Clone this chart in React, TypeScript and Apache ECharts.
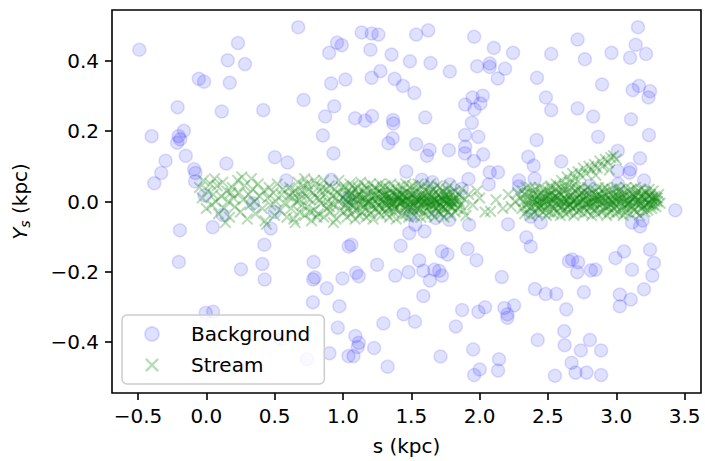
import React, { useEffect, useRef } from "react";
import * as echarts from "echarts";

// ---- Data ----
const xTicks = [-0.5, 0.0, 0.5, 1.0, 1.5, 2.0, 2.5, 3.0, 3.5];
const yTicks = [-0.4, -0.2, 0.0, 0.2, 0.4];
const xRange = [-0.69, 3.62];
const yRange = [-0.545, 0.545];

const backgroundPoints: number[][] = [
  [-0.49,0.432],[0.232,0.451],[0.157,0.402],[0.283,0.391],[0.673,0.496],[0.957,0.452],[0.991,0.445],[0.899,0.423],
  [-0.055,0.349],[-0.016,0.341],[0.172,0.338],[1.018,0.347],[0.914,0.336],[-0.21,0.268],[0.113,0.256],[0.417,0.26],
  [0.712,0.289],[0.936,0.271],[0.87,0.242],[-0.4,0.186],[-0.164,0.201],[-0.203,0.186],[-0.191,0.177],[-0.213,0.167],
  [0.853,0.188],[-0.15,0.13],[-0.298,0.116],[-0.33,0.081],[-0.381,0.052],[0.147,0.108],[0.502,0.126],[0.595,0.111],
  [0.931,0.137],[-0.089,0.092],[-0.079,0.081],[-0.082,0.057],[0.585,0.06],[0.914,0.062],[-0.013,0.017],
  [1.137,0.481],[1.21,0.478],[1.259,0.475],[1.536,0.475],[1.624,0.487],[1.96,0.469],[2.104,0.437],[2.245,0.423],
  [1.201,0.432],[1.356,0.418],[1.49,0.399],[1.641,0.394],[1.782,0.37],[1.982,0.385],[2.074,0.393],[2.074,0.383],
  [2.186,0.378],[2.133,0.35],[1.21,0.352],[1.274,0.371],[1.378,0.349],[1.439,0.329],[1.522,0.309],[2.42,0.352],
  [2.524,0.42],[2.717,0.461],[2.77,0.405],[2.965,0.423],[3.101,0.409],[3.218,0.42],[3.142,0.446],[3.159,0.496],
  [2.896,0.333],[3.166,0.329],[3.12,0.317],[3.247,0.314],[3.235,0.296],[1.894,0.276],[1.948,0.296],[2.023,0.301],
  [2.006,0.279],[1.962,0.262],[2.485,0.296],[2.524,0.26],[2.717,0.265],[2.831,0.242],[3.108,0.234],[1.089,0.237],
  [1.162,0.23],[1.213,0.243],[1.366,0.232],[1.369,0.222],[1.602,0.239],[1.943,0.224],[1.894,0.189],[1.991,0.184],
  [2.417,0.175],[2.867,0.184],[3.239,0.189],[1.364,0.18],[1.332,0.166],[1.536,0.163],[1.634,0.147],[1.615,0.13],
  [1.775,0.146],[1.894,0.156],[1.892,0.137],[2.026,0.134],[1.958,0.115],[2.356,0.127],[2.396,0.102],[2.597,0.114],
  [3.011,0.144],[3.174,0.123],[3.104,0.092],[3.096,0.082],[3.009,0.087],[3.203,0.06],[1.464,0.085],[1.578,0.062],
  [1.655,0.055],[1.782,0.048],[1.87,0.036],[1.918,0.064],[2.074,0.083],[2.135,0.083],[2.067,0.049],[2.288,0.06],
  [2.288,0.043],[2.403,0.065],[2.807,0.045],[3.013,0.05],[3.432,-0.025],
  [0.12,-0.038],[-0.193,-0.082],[0.047,-0.073],[0.471,-0.077],[0.425,-0.123],[-0.201,-0.172],[0.254,-0.193],[0.41,-0.178],
  [0.427,-0.222],[0.785,-0.172],[0.782,-0.222],[0.794,-0.216],[0.882,-0.247],[0.996,-0.219],[0.78,-0.287],[0.974,-0.298],
  [-0.004,-0.317],[0.05,-0.314],[0.962,-0.359],[0.544,-0.392],[0.736,-0.449],[0.901,-0.432],[1.04,-0.44],[1.042,-0.128],
  [1.062,-0.123],[1.25,-0.18],[1.422,-0.126],[1.485,-0.09],[1.529,-0.066],[1.597,-0.085],[1.68,-0.047],[1.777,-0.052],
  [1.923,-0.066],[2.208,-0.065],[2.374,-0.043],[2.447,-0.06],[2.342,-0.102],[2.374,-0.128],[3.115,-0.06],[3.174,-0.071],
  [3.193,-0.054],[1.096,-0.203],[1.116,-0.213],[1.383,-0.211],[1.48,-0.201],[1.558,-0.168],[1.588,-0.197],[1.636,-0.225],
  [1.668,-0.194],[1.704,-0.197],[1.724,-0.211],[1.724,-0.142],[1.765,-0.151],[1.911,-0.135],[1.977,-0.167],[2.162,-0.215],
  [1.588,-0.269],[1.444,-0.321],[1.527,-0.342],[1.296,-0.347],[1.872,-0.309],[1.991,-0.314],[2.04,-0.301],[2.181,-0.303],
  [2.252,-0.296],[2.203,-0.321],[2.203,-0.331],[1.826,-0.356],[1.091,-0.383],[1.116,-0.402],[1.108,-0.414],[1.077,-0.44],
  [1.228,-0.417],[1.327,-0.47],[1.714,-0.441],[1.953,-0.421],[2.001,-0.478],[1.96,-0.494],[2.142,-0.449],[2.135,-0.481],
  [2.405,-0.249],[2.483,-0.263],[2.561,-0.263],[2.634,-0.307],[2.763,-0.258],[2.425,-0.394],[2.619,-0.369],[2.622,-0.409],
  [2.741,-0.424],[2.807,-0.394],[2.889,-0.424],[2.673,-0.459],[2.702,-0.487],[2.782,-0.487],[2.889,-0.494],[2.551,-0.496],
  [2.653,-0.17],[2.677,-0.165],[2.721,-0.173],[2.714,-0.201],[2.814,-0.196],[2.848,-0.194],[2.994,-0.161],[3.057,-0.142],
  [3.115,-0.194],[3.247,-0.137],[3.276,-0.175],[3.264,-0.211],[3.203,-0.25],[3.026,-0.265],[3.106,-0.279],[3.026,-0.298],
  [0.342,-0.005],[0.5,-0.03],[1.035,0.01],[1.498,-0.038],
];

const streamLeft: number[][] = [
  [-0.05,0.04],[-0.03,0.01],[-0.02,0.06],[0.0,-0.02],[0.01,0.03],[0.03,0.05],[0.04,-0.01],[0.05,0.02],[0.07,0.0],[0.08,0.045],
  [0.09,-0.035],[0.11,0.015],[0.12,0.055],[0.13,-0.02],[0.15,0.03],[0.16,0.0],[0.17,-0.045],[0.19,0.04],[0.2,0.01],[0.21,-0.015],
  [0.23,0.06],[0.24,0.025],[0.25,-0.03],[0.27,0.005],[0.28,0.045],[0.3,-0.05],[0.31,0.02],[0.32,-0.01],[0.34,0.035],[0.35,0.0],
  [0.36,-0.035],[0.38,0.05],[0.39,0.015],[0.41,-0.02],[0.42,0.03],[0.43,-0.055],[0.45,0.01],[0.46,0.04],[0.47,-0.01],[0.49,0.025],
  [0.5,-0.04],[0.51,0.0],[0.52,0.05],[0.54,-0.025],[0.55,0.02],[0.56,0.035],[0.57,-0.005],[0.59,-0.045],[0.6,0.015],[0.06,0.065],
  [0.14,-0.06],[0.26,0.07],[0.44,-0.065],[0.33,0.065],[0.18,0.025],
  [0.61,0.04],[0.62,-0.02],[0.63,0.01],[0.64,-0.05],[0.65,0.03],[0.66,0.0],[0.67,0.055],[0.68,-0.03],[0.69,0.02],[0.7,-0.01],
  [0.71,0.045],[0.72,-0.04],[0.73,0.015],[0.74,-0.015],[0.75,0.035],[0.76,0.005],[0.77,-0.055],[0.78,0.025],[0.79,-0.025],[0.8,0.05],
  [0.81,0.01],[0.82,-0.035],[0.83,0.03],[0.84,-0.005],[0.85,0.04],[0.86,-0.045],[0.87,0.02],[0.88,-0.02],[0.89,0.0],[0.9,0.045],
  [0.91,-0.03],[0.92,0.015],[0.93,-0.01],[0.94,0.035],[0.95,-0.05],[0.96,0.025],[0.97,0.0],[0.98,-0.025],[0.99,0.04],[0.65,-0.06],
  [0.72,0.065],[0.79,0.06],[0.86,0.06],[0.93,-0.06],[0.97,0.06],[0.63,0.025],[0.7,0.03],[0.76,-0.03],[0.83,0.005],[0.9,-0.015],
  [0.95,0.01],[0.68,0.005],[0.74,0.05],[0.81,-0.045],[0.88,0.035],
  [1.0,0.01],[1.01,-0.03],[1.01,0.04],[1.02,-0.01],[1.02,0.02],[1.03,-0.045],[1.03,0.0],[1.04,0.03],[1.04,-0.02],[1.05,0.05],
  [1.05,-0.005],[1.06,0.025],[1.06,-0.035],[1.07,0.01],[1.07,0.045],[1.08,-0.015],[1.08,0.0],[1.09,0.035],[1.09,-0.05],[1.1,0.015],
  [1.1,-0.025],[1.11,0.04],[1.11,0.005],[1.12,-0.04],[1.12,0.02],[1.13,-0.01],[1.13,0.055],[1.14,0.0],[1.14,-0.03],[1.15,0.03],
  [1.15,-0.015],[1.16,0.01],[1.16,0.045],[1.17,-0.045],[1.17,0.02],[1.18,-0.005],[1.18,0.035],[1.19,-0.025],[1.19,0.0],[1.2,0.05],
  [1.2,-0.035],[1.21,0.015],[1.21,-0.01],[1.22,0.03],[1.22,-0.05],[1.23,0.005],[1.23,0.04],[1.24,-0.02],[1.24,0.02],[1.25,-0.005],
  [1.25,0.035],[1.26,-0.03],[1.26,0.01],[1.27,0.05],[1.27,-0.015],[1.28,0.025],[1.28,-0.04],[1.29,0.0],[1.29,0.04],[1.3,-0.02],
  [1.3,0.015],[1.31,-0.005],[1.31,0.045],[1.32,-0.035],[1.32,0.02],[1.33,0.0],[1.33,-0.02],[1.34,0.035],[1.34,-0.045],[1.35,0.01],
  [1.35,0.05],[1.36,-0.01],[1.36,0.025],[1.37,-0.03],[1.37,0.005],[1.38,0.04],[1.38,-0.015],[1.39,0.015],[1.39,-0.05],[1.4,0.0],
  [1.4,0.03],[1.41,-0.025],[1.41,0.01],[1.42,0.045],[1.42,-0.005],[1.43,-0.04],[1.43,0.02],[1.44,0.0],[1.44,0.035],[1.45,-0.02],
  [1.45,0.015],[1.46,-0.035],[1.46,0.05],[1.47,0.005],[1.47,-0.01],[1.48,0.025],[1.48,-0.045],[1.49,0.04],[1.49,-0.015],[1.5,0.01],
  [1.5,-0.03],[1.51,0.02],[1.51,0.045],[1.52,-0.005],[1.52,-0.04],[1.53,0.03],[1.53,0.0],[1.54,-0.02],[1.54,0.015],[1.55,0.05],
  [1.55,-0.025],[1.56,0.005],[1.56,0.035],[1.57,-0.045],[1.57,-0.01],[1.58,0.02],[1.58,0.045],[1.59,-0.03],[1.59,0.0],[1.6,0.03],
  [1.6,-0.015],[1.61,0.01],[1.61,-0.04],[1.62,0.04],[1.62,-0.005],[1.63,0.025],[1.63,-0.025],[1.64,0.0],[1.64,0.05],[1.65,-0.035],
  [1.65,0.015],[1.66,-0.01],[1.66,0.035],[1.67,-0.045],[1.67,0.005],[1.68,0.025],[1.68,-0.02],[1.69,0.045],[1.69,0.0],[1.7,-0.03],
  [1.7,0.02],[1.71,-0.005],[1.71,0.04],[1.72,-0.035],[1.72,0.01],[1.73,-0.015],[1.73,0.03],[1.74,0.0],[1.74,-0.045],[1.75,0.015],
  [1.75,-0.02],[1.76,0.035],[1.76,0.005],[1.77,-0.03],[1.77,0.02],[1.78,-0.01],[1.78,0.045],[1.79,0.0],[1.79,-0.04],[1.8,0.025],
  [1.8,-0.015],[1.81,0.01],[1.82,-0.03],[1.82,0.03],[1.83,0.0],[1.84,-0.02],[1.85,0.02],[1.86,-0.01],[1.87,0.035],[1.88,-0.025],
  [1.89,0.005],[1.9,-0.04],
  [1.3,0.005],[1.32,-0.01],[1.34,0.015],[1.36,0.0],[1.38,-0.02],[1.4,0.01],[1.42,-0.005],[1.44,0.02],[1.46,-0.015],[1.48,0.005],
  [1.5,0.02],[1.52,-0.01],[1.54,0.005],[1.56,-0.02],[1.58,0.01],[1.6,0.0],[1.62,0.015],[1.64,-0.01],[1.66,0.02],[1.68,-0.005],
  [1.7,0.01],[1.72,-0.02],[1.74,0.015],[1.76,-0.005],[1.78,0.01],[1.8,0.0],[1.31,0.02],[1.35,-0.015],[1.39,0.02],[1.43,0.0],
  [1.47,0.015],[1.51,-0.02],[1.55,0.0],[1.59,0.015],[1.63,-0.015],[1.67,0.005],[1.71,-0.01],[1.75,0.02],[1.79,-0.015],[1.83,0.01],
  [1.02,0.005],[1.05,0.015],[1.08,-0.01],[1.11,0.02],[1.14,0.01],[1.17,-0.005],[1.2,0.0],[1.23,0.015],[1.26,-0.01],[1.29,0.02],
  [1.33,0.01],[1.37,-0.005],[1.41,0.015],[1.45,0.0],[1.49,-0.01],[1.53,0.01],[1.57,0.005],[1.61,-0.005],[1.65,0.0],[1.69,-0.015],
  [1.73,0.005],[1.77,0.0],[1.81,-0.005],[1.85,0.0],
];

const streamGap: number[][] = [
  [1.92,0.02],[1.95,-0.01],[1.98,0.03],[2.0,0.01],[2.04,-0.03],[2.08,-0.028],[2.12,0.005],[2.17,-0.02],[2.21,0.02],[2.23,-0.014],
  [2.26,0.0],[2.28,0.025],
];

const streamRight: number[][] = [
  [2.3,0.01],[2.31,-0.02],[2.31,0.03],[2.32,0.0],[2.33,-0.035],[2.33,0.02],[2.34,-0.01],[2.34,0.04],[2.35,0.005],
  [2.35,-0.025],[2.36,0.025],[2.36,-0.005],[2.37,0.04],[2.37,-0.04],[2.38,0.01],[2.38,-0.015],[2.39,0.03],[2.39,0.0],[2.4,-0.03],
  [2.4,0.02],[2.41,-0.01],[2.41,0.035],[2.42,0.005],[2.42,-0.035],[2.43,0.015],[2.43,-0.02],[2.44,0.04],[2.44,0.0],[2.45,-0.015],
  [2.45,0.025],[2.46,-0.03],[2.46,0.01],[2.47,-0.005],[2.47,0.035],[2.48,-0.025],[2.48,0.015],[2.49,0.0],[2.49,-0.04],[2.5,0.03],
  [2.5,-0.01],[2.51,0.02],[2.51,-0.03],[2.52,0.005],[2.52,0.04],[2.53,-0.015],[2.53,0.025],[2.54,-0.035],[2.54,0.0],[2.55,0.015],
  [2.55,-0.02],[2.56,0.035],[2.56,-0.005],[2.57,0.01],[2.57,-0.03],[2.58,0.025],[2.58,-0.01],[2.59,0.04],[2.59,-0.04],[2.6,0.0],
  [2.6,0.02],[2.61,-0.025],[2.61,0.03],[2.62,-0.005],[2.62,0.01],[2.63,-0.035],[2.63,0.035],[2.64,0.0],[2.64,-0.015],[2.65,0.025],
  [2.65,-0.03],[2.66,0.015],[2.66,-0.01],[2.67,0.04],[2.67,0.005],[2.68,-0.02],[2.68,0.025],[2.69,-0.04],[2.69,0.0],[2.7,0.03],
  [2.7,-0.015],[2.71,0.01],[2.71,-0.03],[2.72,0.035],[2.72,-0.005],[2.73,0.02],[2.73,-0.025],[2.74,0.0],[2.74,0.04],[2.75,-0.01],
  [2.75,0.025],[2.76,-0.035],[2.76,0.005],[2.77,0.03],[2.77,-0.02],[2.78,0.015],[2.78,-0.005],[2.79,0.04],[2.79,-0.03],[2.8,0.0],
  [2.8,0.02],[2.81,-0.015],[2.81,0.035],[2.82,-0.04],[2.82,0.01],[2.83,-0.005],[2.83,0.025],[2.84,-0.025],[2.84,0.0],[2.85,0.03],
  [2.85,-0.02],[2.86,0.015],[2.86,-0.035],[2.87,0.005],[2.87,0.04],[2.88,-0.01],[2.88,0.02],[2.89,-0.03],[2.89,0.01],[2.9,0.035],
  [2.9,-0.005],[2.91,0.025],[2.91,-0.025],[2.92,0.0],[2.92,0.04],[2.93,-0.04],[2.93,0.015],[2.94,-0.015],[2.94,0.03],[2.95,0.005],
  [2.95,-0.03],[2.96,0.02],[2.96,-0.01],[2.97,0.035],[2.97,0.0],[2.98,-0.02],[2.98,0.025],[2.99,-0.035],[2.99,0.01],[3.0,0.04],
  [3.0,-0.015],[3.01,0.015],[3.01,-0.03],[3.02,0.03],[3.02,0.0],[3.03,-0.005],[3.03,0.035],[3.04,-0.025],[3.04,0.02],[3.05,-0.04],
  [3.05,0.01],[3.06,-0.01],[3.06,0.025],[3.07,-0.03],[3.07,0.04],[3.08,0.005],[3.08,-0.02],[3.09,0.03],[3.09,-0.005],[3.1,0.015],
  [3.1,-0.035],[3.11,0.0],[3.11,0.035],[3.12,-0.015],[3.12,0.02],[3.13,-0.025],[3.13,0.01],[3.14,0.04],[3.14,-0.005],[3.15,0.025],
  [3.15,-0.03],[3.16,0.005],[3.16,0.03],[3.17,-0.01],[3.17,-0.04],[3.18,0.015],[3.18,0.035],[3.19,-0.02],[3.19,0.0],[3.2,0.02],
  [3.2,-0.015],[3.21,0.03],[3.21,-0.03],[3.22,0.005],[3.22,0.025],[3.23,-0.005],[3.23,-0.025],[3.24,0.015],[3.24,0.035],[3.25,-0.01],
  [3.25,0.02],[3.26,-0.02],[3.26,0.005],[3.27,0.03],[3.27,-0.01],[3.28,0.015],[3.29,-0.015],[3.29,0.01],[3.3,0.0],[3.31,0.02],[3.32,-0.005],
  [2.4,0.005],[2.44,-0.01],[2.48,0.01],[2.52,-0.005],[2.56,0.015],[2.6,-0.015],[2.64,0.005],[2.68,0.0],[2.72,-0.01],[2.76,0.015],
  [2.8,-0.005],[2.84,0.01],[2.88,0.0],[2.92,-0.015],[2.96,0.005],[3.0,0.0],[3.04,0.01],[3.08,-0.01],[3.12,0.005],[3.16,0.0],
  [3.2,0.01],[3.24,-0.005],[3.28,0.0],[2.42,0.0],[2.5,0.015],[2.58,0.0],[2.66,-0.01],[2.74,0.01],[2.82,0.0],[2.9,0.01],
  [2.98,-0.005],[3.06,0.0],[3.14,0.015],[3.22,-0.01],[3.3,0.01],
  [2.46,0.0],[2.54,0.01],[2.62,0.0],[2.7,0.005],[2.78,-0.01],[2.86,0.005],[2.94,0.0],[3.02,0.01],[3.1,0.0],[3.18,-0.005],[3.26,0.01],
];

const streamBranch: number[][] = [
  [2.52,0.045],[2.56,0.05],[2.6,0.06],[2.62,0.045],[2.64,0.07],[2.66,0.055],[2.68,0.08],[2.7,0.065],[2.72,0.085],[2.74,0.075],
  [2.76,0.095],[2.78,0.08],[2.8,0.1],[2.82,0.09],[2.84,0.105],[2.86,0.095],[2.88,0.115],[2.9,0.1],[2.92,0.12],[2.94,0.11],
  [2.96,0.125],[2.98,0.13],[3.0,0.12],[2.7,0.05],[2.85,0.075],[2.95,0.09],
];

const streamPoints = [...streamLeft, ...streamGap, ...streamRight, ...streamBranch];

const FONT = "DejaVu Sans";
const X_SYMBOL =
  "path://M0,1.2L1.2,0L5,3.8L8.8,0L10,1.2L6.2,5L10,8.8L8.8,10L5,6.2L1.2,10L0,8.8L3.8,5Z";

const fmt = (v: number) => v.toFixed(1).replace("-", "\u2212");

export default function App() {
  const ref = useRef<HTMLDivElement>(null);

  useEffect(() => {
    if (!ref.current) return;
    const chart = echarts.init(ref.current, null, { renderer: "svg" });
    chart.setOption({
      animation: false,
      backgroundColor: "#ffffff",
      grid: {
        left: 112,
        right: 4,
        top: 10,
        bottom: 68,
        show: true,
        borderColor: "#000000",
        borderWidth: 1.6,
        backgroundColor: "transparent",
      },
      legend: {
        orient: "vertical",
        left: 122,
        top: 315,
        data: ["Background", "Stream"],
        itemWidth: 30,
        itemHeight: 14,
        itemGap: 9,
        padding: [8, 14, 8, 22],
        backgroundColor: "rgba(255,255,255,0.8)",
        borderColor: "#cccccc",
        borderWidth: 1.5,
        borderRadius: 5,
        textStyle: {
          fontFamily: FONT,
          fontSize: 20,
          color: "#000000",
          lineHeight: 22,
          padding: [0, 0, 0, 19],
        },
      },
      xAxis: {
        type: "value",
        min: xRange[0],
        max: xRange[1],
        name: "s (kpc)",
        nameLocation: "middle",
        nameGap: 43,
        nameTextStyle: { fontFamily: FONT, fontSize: 20, color: "#000000" },
        splitLine: { show: false },
        axisLine: { show: false, onZero: false },
        axisTick: {
          show: true,
          length: 7,
          lineStyle: { color: "#000000", width: 1.6 },
          customValues: xTicks,
        },
        axisLabel: {
          margin: 13,
          fontFamily: FONT,
          fontSize: 20,
          color: "#000000",
          customValues: xTicks,
          formatter: fmt,
        },
      },
      yAxis: {
        type: "value",
        min: yRange[0],
        max: yRange[1],
        name: "{i|Y}{sub|s}{n| (kpc)}",
        nameLocation: "middle",
        nameRotate: 90,
        nameGap: 80,
        nameTextStyle: {
          fontFamily: FONT,
          fontSize: 20,
          color: "#000000",
          rich: {
            i: { fontFamily: FONT, fontSize: 20, fontStyle: "italic", color: "#000000", lineHeight: 24, verticalAlign: "middle" },
            sub: { fontFamily: FONT, fontSize: 14, fontStyle: "italic", color: "#000000", lineHeight: 24, verticalAlign: "bottom" },
            n: { fontFamily: FONT, fontSize: 20, color: "#000000", lineHeight: 24, verticalAlign: "middle" },
          },
        },
        splitLine: { show: false },
        axisLine: { show: false, onZero: false },
        axisTick: {
          show: true,
          length: 7,
          lineStyle: { color: "#000000", width: 1.6 },
          customValues: yTicks,
        },
        axisLabel: {
          margin: 13,
          fontFamily: FONT,
          fontSize: 20,
          color: "#000000",
          customValues: yTicks,
          formatter: fmt,
        },
      },
      series: [
        {
          name: "Background",
          type: "scatter",
          data: backgroundPoints,
          symbol: "circle",
          symbolSize: 13,
          itemStyle: {
            color: "rgba(0,0,255,0.15)",
            borderColor: "rgba(0,0,255,0.15)",
            borderWidth: 1.5,
          },
          emphasis: { disabled: true },
          z: 2,
        },
        {
          name: "Stream",
          type: "scatter",
          data: streamPoints,
          symbol: X_SYMBOL,
          symbolSize: 12,
          itemStyle: { color: "rgba(0,128,0,0.35)" },
          emphasis: { disabled: true },
          z: 3,
        },
      ],
    });
    return () => chart.dispose();
  }, []);

  return <div ref={ref} style={{ width: 705, height: 461, position: "absolute", left: 0, top: 0 }} />;
}
